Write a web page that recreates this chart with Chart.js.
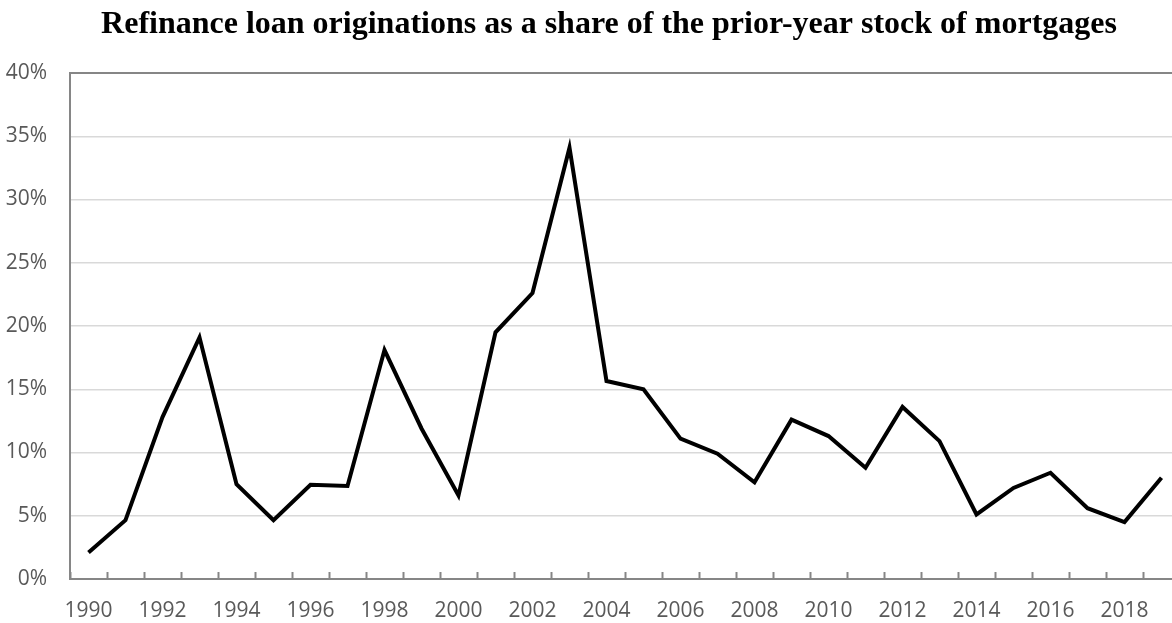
<!DOCTYPE html>
<html>
<head>
<meta charset="utf-8">
<style>
  html, body { margin: 0; padding: 0; background: #fff; overflow: hidden; }
</style>
<script src="https://cdn.jsdelivr.net/npm/chart.js@4"></script>
</head>
<body>
<canvas id="refiChart" width="1218" height="623"></canvas>
<script>
const years = ['1990', '1991', '1992', '1993', '1994', '1995', '1996', '1997', '1998', '1999',
    '2000', '2001', '2002', '2003', '2004', '2005', '2006', '2007', '2008', '2009',
    '2010', '2011', '2012', '2013', '2014', '2015', '2016', '2017', '2018', '2019'];
const refiShare = [2.1, 4.65, 12.8, 19.1, 7.5, 4.65, 7.45, 7.35, 18.1, 11.9,
    6.6, 19.5, 22.6, 34.1, 15.65, 15.0, 11.1, 9.9, 7.65, 12.6,
    11.3, 8.8, 13.6, 10.9, 5.1, 7.2, 8.4, 5.6, 4.5, 8.0];
const yTicks = [0, 5, 10, 15, 20, 25, 30, 35, 40];
const chartTitle = 'Refinance loan originations as a share of the prior-year stock of mortgages';

document.addEventListener('DOMContentLoaded', function() {
    const axisGray = '#868686';
    const labelGray = '#595959';

    const ctx = document.getElementById('refiChart').getContext('2d');
    const refiChart = new Chart(ctx, {
        type: 'line',
        data: {
            labels: years,
            datasets: [{
                label: 'Refinance share',
                data: refiShare,
                borderColor: '#000000',
                borderWidth: 4,
                pointRadius: 0,
                tension: 0,
                fill: false
            }]
        },
        options: {
            responsive: false,
            animation: false,
            devicePixelRatio: 1,
            layout: {
                padding: 0
            },
            plugins: {
                legend: { display: false },
                tooltip: { enabled: false },
                title: {
                    display: true,
                    text: chartTitle,
                    color: '#000000',
                    font: { family: 'Liberation Serif', size: 32, weight: 'bold', lineHeight: 1.2 },
                    padding: { top: 6, bottom: 28.6 }
                }
            },
            scales: {
                x: {
                    type: 'category',
                    offset: true,
                    afterFit: function(scale) { scale.height = 44; },
                    grid: {
                        offset: true,
                        drawOnChartArea: false,
                        drawTicks: true,
                        tickLength: -7,
                        tickColor: axisGray,
                        tickWidth: 2
                    },
                    border: { display: true, color: axisGray, width: 2 },
                    ticks: {
                        autoSkip: false,
                        maxRotation: 0,
                        padding: 26,
                        color: labelGray,
                        font: { family: 'Open Sans', size: 21 },
                        callback: function(value, index) {
                            return index % 2 === 0 ? years[index] : '';
                        }
                    }
                },
                y: {
                    min: yTicks[0],
                    max: yTicks[yTicks.length - 1],
                    afterFit: function(scale) { scale.width = 70; },
                    afterBuildTicks: function(scale) {
                        scale.ticks = yTicks.map(v => ({ value: v }));
                    },
                    grid: {
                        drawTicks: false,
                        color: function(c) {
                            return c.tick && c.tick.value === 40 ? axisGray : '#d9d9d9';
                        },
                        lineWidth: function(c) {
                            return c.tick && c.tick.value === 40 ? 2 : 1.5;
                        }
                    },
                    border: { display: true, color: axisGray, width: 2 },
                    ticks: {
                        padding: 23,
                        color: labelGray,
                        font: { family: 'Open Sans', size: 21 },
                        callback: function(value) { return value + '%'; }
                    }
                },
                // empty right-hand strip: plot runs past the window edge, title stays centred
                spacer: {
                    position: 'right',
                    afterFit: function(scale) { scale.width = 38; },
                    grid: { display: false },
                    border: { display: false },
                    ticks: { display: false }
                }
            }
        }
    });
});
</script>
</body>
</html>
